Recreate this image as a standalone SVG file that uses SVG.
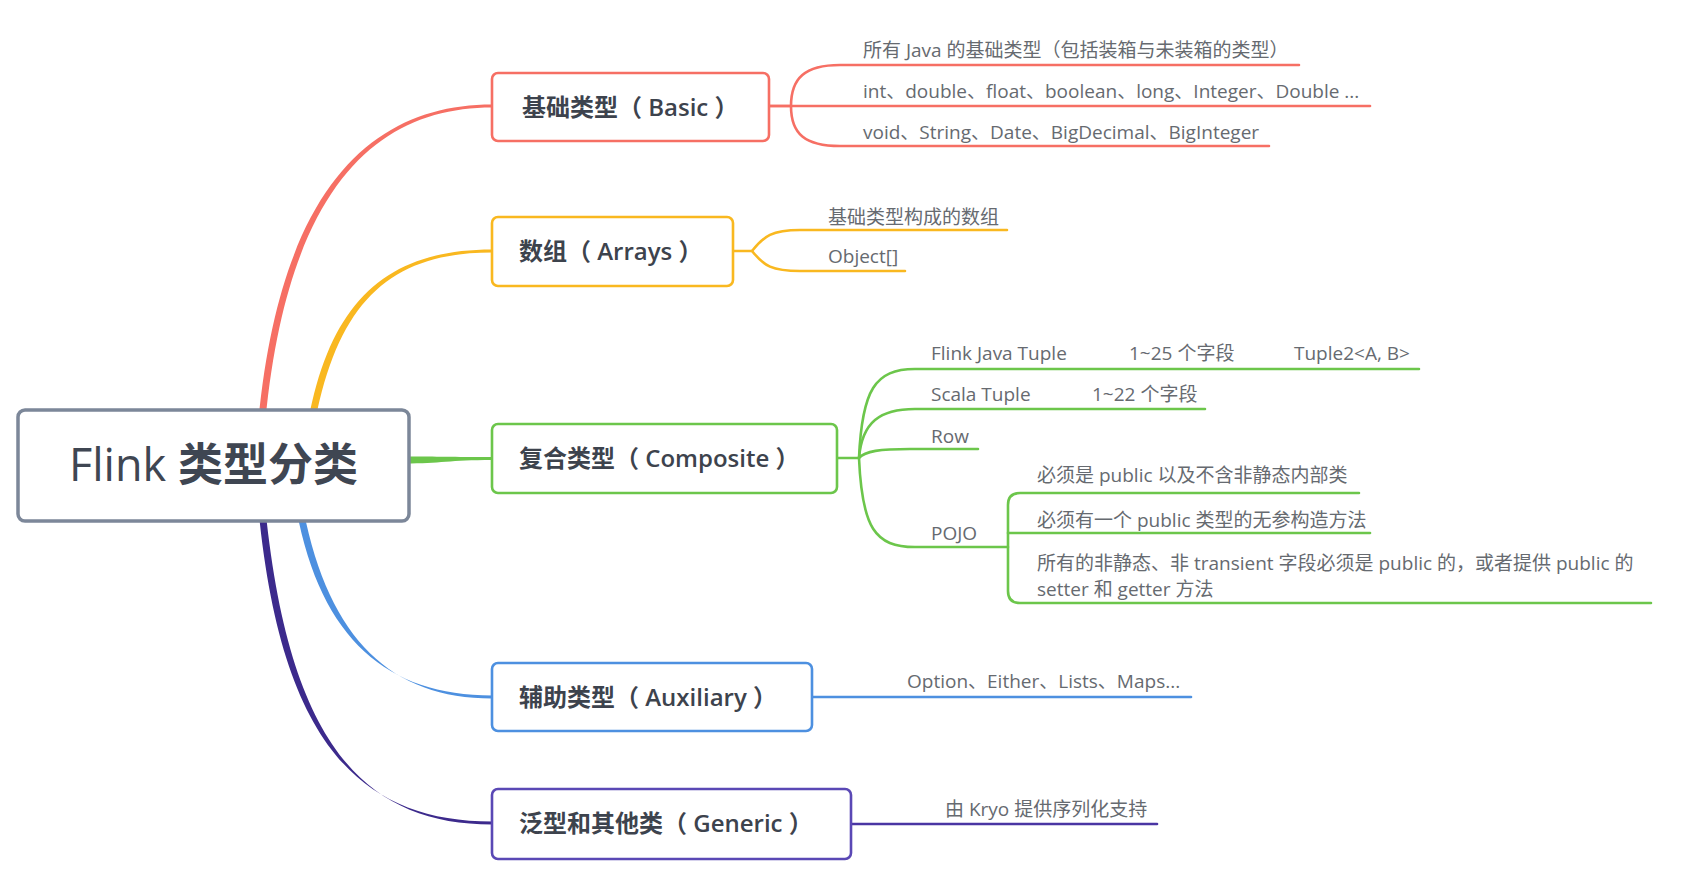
<svg xmlns="http://www.w3.org/2000/svg" width="1698" height="890" viewBox="0 0 1698 890">
<style>
.box{fill:#fff;stroke-width:2.6}
.lbl{font-family:"Open Sans","Noto Sans CJK SC",sans-serif;font-size:24px;font-weight:600;fill:#3d434d}
.sm{font-family:"Open Sans","Noto Sans CJK SC",sans-serif;font-size:19px;fill:#666a70}
.ln{fill:none;stroke-width:2.6;stroke-linecap:round;stroke-linejoin:round}
.red{stroke:#f66f64}.org{stroke:#f9b820}.grn{stroke:#6cc64b}.blu{stroke:#4d90e0}.pur{stroke:#4a35a3}
</style>
<rect width="1698" height="890" fill="#fff"/>
<g id="connectors">
  <path d="M 258.5 420 C 281.5 180, 378 104.5, 492 104.5 L 492 107.5 C 382 107.5, 288.5 180, 265.5 420 Z" fill="#f66f64"/>
  <path d="M 308.5 420 C 331 300, 388 249.5, 492 249.5 L 492 252.5 C 392 252.5, 339 300, 315.5 420 Z" fill="#f9b820"/>
  <path d="M 405 456.5 C 440 456.5, 450 457, 492 457 L 492 460 C 450 460, 440 463.5, 405 463.5 Z" fill="#6cc64b"/>
  <path d="M 296.5 510 C 321 640, 388 695.5, 492 695.5 L 492 698.5 C 392 698.5, 329 640, 303.5 510 Z" fill="#4d90e0"/>
  <path d="M 258.5 510 C 281 740, 358 821.5, 492 821.5 L 492 824.5 C 362 824.5, 289 740, 265.5 510 Z" fill="#3c2a8c"/>
  <path class="ln red" d="M 769 106 L 1370 106"/>
  <path class="ln red" d="M 769 106 L 791 106 C 791 78, 805 65, 840 65 L 1299 65"/>
  <path class="ln red" d="M 791 106 C 791 134, 805 146, 840 146 L 1269 146"/>
  <path class="ln org" d="M 733 251 L 752 251 C 764 236, 772 230, 800 230 L 1007 230"/>
  <path class="ln org" d="M 752 251 C 764 266, 772 271, 800 271 L 905 271"/>
  <path class="ln grn" d="M 837 458 L 859 458 C 862 390, 875 369, 915 369 L 1419 369"/>
  <path class="ln grn" d="M 859 458 C 862 422, 880 409, 915 409 L 1205 409"/>
  <path class="ln grn" d="M 859 458 C 865 451, 880 449, 910 449 L 978 449"/>
  <path class="ln grn" d="M 859 458 C 862 528, 875 547, 915 547 L 1008 547"/>
  <path class="ln grn" d="M 1359 493 L 1020 493 Q 1008 493 1008 505 L 1008 591 Q 1008 603 1020 603 L 1651 603"/>
  <path class="ln grn" d="M 1008 533 L 1370 533"/>
  <path class="ln blu" d="M 812 697 L 1191 697"/>
  <path class="ln pur" d="M 851 824 L 1157 824"/>
</g>
<g id="root">
  <rect x="18" y="410" width="391" height="111" rx="7" fill="#fff" stroke="#7c8799" stroke-width="3.5"/>
  <text x="69" y="481" font-family="'Open Sans','Noto Sans CJK SC',sans-serif" font-size="45" font-weight="500" fill="#3f4652">Flink <tspan font-weight="700">类型分类</tspan></text>
</g>
<g id="basic">
  <rect class="box" x="492" y="73" width="277" height="68" rx="6" stroke="#f66f64"/>
  <text class="lbl" x="522" y="116">基础类型（ Basic ）</text>
  <text class="sm" x="863" y="57">所有 Java 的基础类型（包括装箱与未装箱的类型）</text>
  <text class="sm" x="863" y="98">int、double、float、boolean、long、Integer、Double ...</text>
  <text class="sm" x="863" y="139">void、String、Date、BigDecimal、BigInteger</text>
</g>
<g id="arrays">
  <rect class="box" x="492" y="217" width="241" height="69" rx="6" stroke="#f9b820"/>
  <text class="lbl" x="519" y="260">数组（ Arrays ）</text>
  <text class="sm" x="828" y="224">基础类型构成的数组</text>
  <text class="sm" x="828" y="263">Object[]</text>
</g>
<g id="composite">
  <rect class="box" x="492" y="424" width="345" height="69" rx="6" stroke="#6cc64b"/>
  <text class="lbl" x="519" y="467">复合类型（ Composite ）</text>
  <text class="sm" x="931" y="360">Flink Java Tuple</text>
  <text class="sm" x="1129" y="360">1~25 个字段</text>
  <text class="sm" x="1294" y="360">Tuple2&lt;A, B&gt;</text>
  <text class="sm" x="931" y="401">Scala Tuple</text>
  <text class="sm" x="1092" y="401">1~22 个字段</text>
  <text class="sm" x="931" y="443">Row</text>
  <text class="sm" x="931" y="540">POJO</text>
  <text class="sm" x="1037" y="482">必须是 public 以及不含非静态内部类</text>
  <text class="sm" x="1037" y="527">必须有一个 public 类型的无参构造方法</text>
  <text class="sm" x="1037" y="570">所有的非静态、非 transient 字段必须是 public 的，或者提供 public 的</text>
  <text class="sm" x="1037" y="596">setter 和 getter 方法</text>
</g>
<g id="auxiliary">
  <rect class="box" x="492" y="663" width="320" height="68" rx="6" stroke="#4d90e0"/>
  <text class="lbl" x="519" y="706">辅助类型（ Auxiliary ）</text>
  <text class="sm" x="907" y="688">Option、Either、Lists、Maps...</text>
</g>
<g id="generic">
  <rect class="box" x="492" y="789" width="359" height="70" rx="6" stroke="#5a48b5"/>
  <text class="lbl" x="519" y="832">泛型和其他类（ Generic ）</text>
  <text class="sm" x="945" y="816">由 Kryo 提供序列化支持</text>
</g>
</svg>
